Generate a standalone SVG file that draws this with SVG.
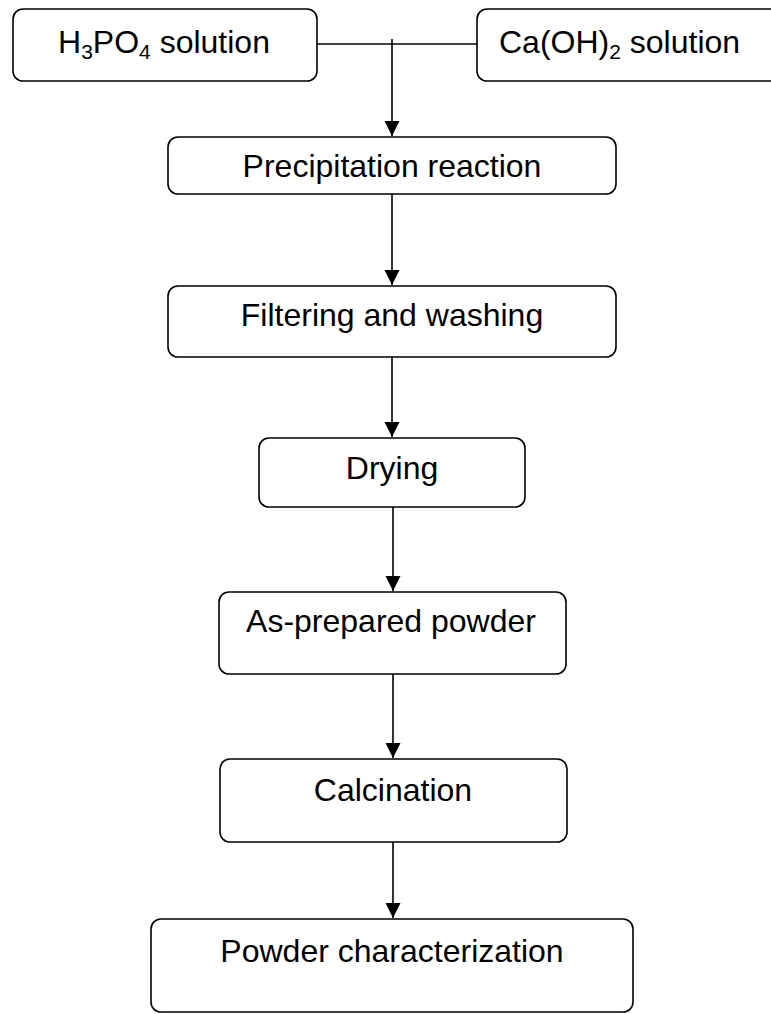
<svg xmlns="http://www.w3.org/2000/svg" width="771" height="1014" viewBox="0 0 771 1014">
<defs>
<style>
.box{fill:#fff;stroke:#000;stroke-width:1.6}
.t{font-family:"Liberation Sans",Arial,sans-serif;font-size:32px;fill:#000}
.c{text-anchor:middle}
.ln{stroke:#000;stroke-width:1.6;fill:none}
.sub{font-size:21px}
</style>
<marker id="ah" markerUnits="userSpaceOnUse" markerWidth="16" markerHeight="16" viewBox="0 0 16 16" refX="15" refY="8" orient="auto">
<path d="M0,0.5 L15,8 L0,15.5 Z" fill="#000"/>
</marker>
</defs>
<rect width="771" height="1014" fill="#fff"/>
<g id="connectors">
<line class="ln" x1="317" y1="44" x2="477" y2="44"/>
<line class="ln" x1="392" y1="39" x2="392" y2="136" marker-end="url(#ah)"/>
<line class="ln" x1="392" y1="194" x2="392" y2="285" marker-end="url(#ah)"/>
<line class="ln" x1="392" y1="357" x2="392" y2="437" marker-end="url(#ah)"/>
<line class="ln" x1="393" y1="507" x2="393" y2="591" marker-end="url(#ah)"/>
<line class="ln" x1="393" y1="674" x2="393" y2="758" marker-end="url(#ah)"/>
<line class="ln" x1="393" y1="842" x2="393" y2="918" marker-end="url(#ah)"/>
</g>
<g id="h3po4">
<rect class="box" x="13" y="9" width="304" height="72" rx="10"/>
<text class="t c" x="164" y="53">H<tspan class="sub" dy="6">3</tspan><tspan dy="-6">PO</tspan><tspan class="sub" dy="6">4</tspan><tspan dy="-6"> solution</tspan></text>
</g>
<g id="caoh2">
<rect class="box" x="477" y="9" width="330" height="72" rx="10"/>
<text class="t" x="499" y="53">Ca(OH)<tspan class="sub" dy="6">2</tspan><tspan dy="-6"> solution</tspan></text>
</g>
<g id="precipitation">
<rect class="box" x="168" y="137" width="448" height="57" rx="10"/>
<text class="t c" x="392" y="177">Precipitation reaction</text>
</g>
<g id="filtering">
<rect class="box" x="168" y="286" width="448" height="71" rx="10"/>
<text class="t c" x="392" y="326">Filtering and washing</text>
</g>
<g id="drying">
<rect class="box" x="259" y="438" width="266" height="69" rx="10"/>
<text class="t c" x="392" y="479">Drying</text>
</g>
<g id="asprepared">
<rect class="box" x="219" y="592" width="347" height="82" rx="10"/>
<text class="t c" x="391" y="632">As-prepared powder</text>
</g>
<g id="calcination">
<rect class="box" x="220" y="759" width="347" height="83" rx="10"/>
<text class="t c" x="393" y="801">Calcination</text>
</g>
<g id="characterization">
<rect class="box" x="151" y="919" width="482" height="93" rx="10"/>
<text class="t c" x="392" y="962">Powder characterization</text>
</g>
</svg>
